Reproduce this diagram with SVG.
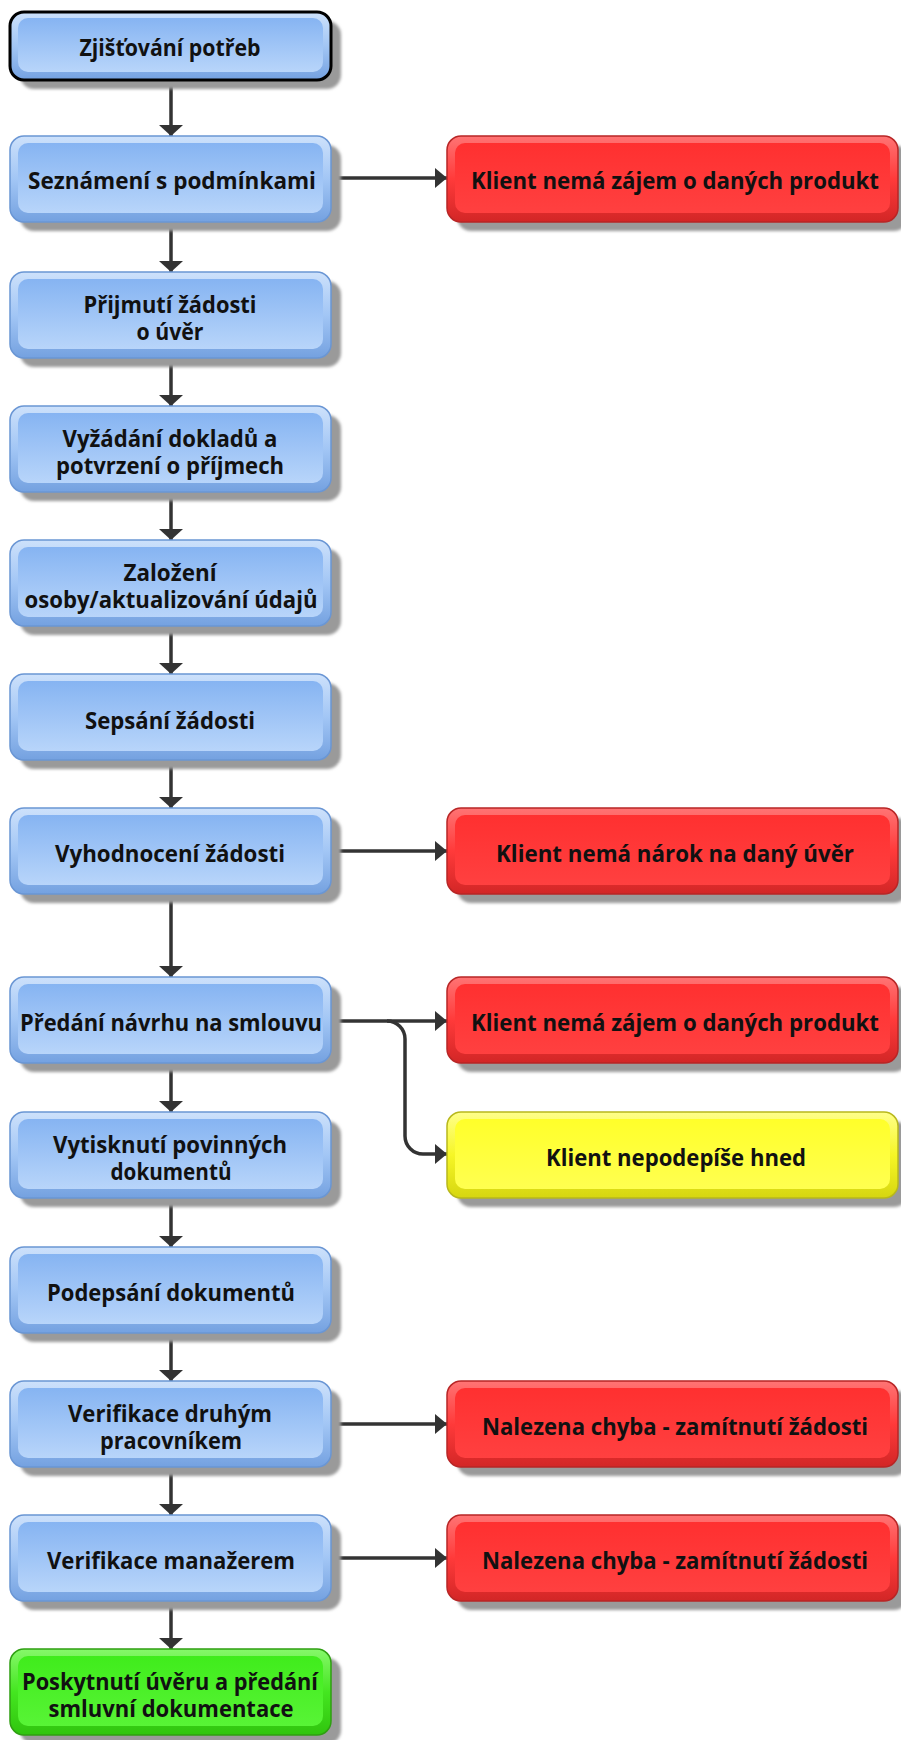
<svg xmlns="http://www.w3.org/2000/svg" width="901" height="1740" viewBox="0 0 901 1740">
<style>
.t{font-family:"Open Sans","Liberation Sans",sans-serif;font-weight:bold;font-size:24px;fill:#111;text-anchor:middle}
.sh{fill:#9a9a9a;filter:url(#blur)}
.bo{fill:url(#gBo);stroke:#6a96d4;stroke-width:1.5}
.bi{fill:url(#gBi)}
.ro{fill:url(#gRo);stroke:#b82626;stroke-width:1.5}
.ri{fill:url(#gRi)}
.yo{fill:url(#gYo);stroke:#b8b81c;stroke-width:1.5}
.yi{fill:url(#gYi)}
.go{fill:url(#gGo);stroke:#2f9f12;stroke-width:1.5}
.gi{fill:url(#gGi)}
.c{fill:none;stroke:#333;stroke-width:3.5}
</style>
<defs>
<filter id="blur" x="-5%" y="-10%" width="110%" height="120%"><feGaussianBlur stdDeviation="1.5"/></filter>
<linearGradient id="gBo" x1="0" y1="0" x2="0" y2="1"><stop offset="0" stop-color="#cde1fb"/><stop offset="0.5" stop-color="#a2c6f5"/><stop offset="1" stop-color="#74a1e0"/></linearGradient>
<linearGradient id="gBi" x1="0" y1="0" x2="0" y2="1"><stop offset="0" stop-color="#86b4f2"/><stop offset="1" stop-color="#b8d5fa"/></linearGradient>
<linearGradient id="gRo" x1="0" y1="0" x2="0" y2="1"><stop offset="0" stop-color="#ff7474"/><stop offset="0.5" stop-color="#ff3a3a"/><stop offset="1" stop-color="#d22626"/></linearGradient>
<linearGradient id="gRi" x1="0" y1="0" x2="0" y2="1"><stop offset="0" stop-color="#ff3030"/><stop offset="1" stop-color="#ff4040"/></linearGradient>
<linearGradient id="gYo" x1="0" y1="0" x2="0" y2="1"><stop offset="0" stop-color="#ffff8a"/><stop offset="0.5" stop-color="#f6f626"/><stop offset="1" stop-color="#d6d610"/></linearGradient>
<linearGradient id="gYi" x1="0" y1="0" x2="0" y2="1"><stop offset="0" stop-color="#ffff2a"/><stop offset="1" stop-color="#ffff50"/></linearGradient>
<linearGradient id="gGo" x1="0" y1="0" x2="0" y2="1"><stop offset="0" stop-color="#86f86a"/><stop offset="0.5" stop-color="#44e620"/><stop offset="1" stop-color="#30c40e"/></linearGradient>
<linearGradient id="gGi" x1="0" y1="0" x2="0" y2="1"><stop offset="0" stop-color="#40ec1c"/><stop offset="1" stop-color="#58f436"/></linearGradient>
<marker id="aV" viewBox="0 0 11 24" refX="11" refY="12" markerWidth="11" markerHeight="24" markerUnits="userSpaceOnUse" orient="auto"><path d="M0,0 L11,12 L0,24 Z" fill="#333"/></marker>
<marker id="aH" viewBox="0 0 12 20" refX="12" refY="10" markerWidth="12" markerHeight="20" markerUnits="userSpaceOnUse" orient="auto"><path d="M0,0 L12,10 L0,20 Z" fill="#333"/></marker>
</defs>
<rect width="901" height="1740" fill="#fff"/>

<g id="connectors">
<path class="c" d="M171,80 V136" marker-end="url(#aV)"/>
<path class="c" d="M171,222 V272" marker-end="url(#aV)"/>
<path class="c" d="M171,358 V406" marker-end="url(#aV)"/>
<path class="c" d="M171,492 V540" marker-end="url(#aV)"/>
<path class="c" d="M171,626 V674" marker-end="url(#aV)"/>
<path class="c" d="M171,760 V808" marker-end="url(#aV)"/>
<path class="c" d="M171,894 V977" marker-end="url(#aV)"/>
<path class="c" d="M171,1063 V1112" marker-end="url(#aV)"/>
<path class="c" d="M171,1198 V1247" marker-end="url(#aV)"/>
<path class="c" d="M171,1333 V1381" marker-end="url(#aV)"/>
<path class="c" d="M171,1467 V1515" marker-end="url(#aV)"/>
<path class="c" d="M171,1601 V1649" marker-end="url(#aV)"/>
<path class="c" d="M331,178 H447" marker-end="url(#aH)"/>
<path class="c" d="M331,851 H447" marker-end="url(#aH)"/>
<path class="c" d="M331,1021 H447" marker-end="url(#aH)"/>
<path class="c" d="M387,1021 A18,18 0 0 1 405,1039 V1136 A18,18 0 0 0 423,1154 H447" marker-end="url(#aH)"/>
<path class="c" d="M331,1424 H447" marker-end="url(#aH)"/>
<path class="c" d="M331,1558 H447" marker-end="url(#aH)"/>
</g>

<g id="n1">
<rect class="sh" x="20" y="21" width="321" height="68" rx="14"/>
<rect class="bo" x="10" y="12" width="321" height="68" rx="14" style="stroke:#000;stroke-width:3"/>
<rect class="bi" x="18" y="18" width="305" height="54" rx="10"/>
<text class="t" x="170" y="56" textLength="181" lengthAdjust="spacingAndGlyphs">Zjišťování potřeb</text>
</g>

<g id="n2">
<rect class="sh" x="20" y="145" width="321" height="86" rx="14"/>
<rect class="bo" x="10" y="136" width="321" height="86" rx="14"/>
<rect class="bi" x="18" y="143" width="305" height="70" rx="10"/>
<text class="t" x="172" y="189" textLength="288" lengthAdjust="spacingAndGlyphs">Seznámení s podmínkami</text>
</g>
<g id="r1">
<rect class="sh" x="457" y="145" width="451" height="86" rx="14"/>
<rect class="ro" x="447" y="136" width="451" height="86" rx="14"/>
<rect class="ri" x="455" y="143" width="435" height="70" rx="10"/>
<text class="t" x="675" y="189" textLength="408" lengthAdjust="spacingAndGlyphs">Klient nemá zájem o daných produkt</text>
</g>

<g id="n3">
<rect class="sh" x="20" y="281" width="321" height="86" rx="14"/>
<rect class="bo" x="10" y="272" width="321" height="86" rx="14"/>
<rect class="bi" x="18" y="279" width="305" height="70" rx="10"/>
<text class="t" x="170" y="313" textLength="173" lengthAdjust="spacingAndGlyphs">Přijmutí žádosti</text>
<text class="t" x="170" y="340" textLength="67" lengthAdjust="spacingAndGlyphs">o úvěr</text>
</g>

<g id="n4">
<rect class="sh" x="20" y="415" width="321" height="86" rx="14"/>
<rect class="bo" x="10" y="406" width="321" height="86" rx="14"/>
<rect class="bi" x="18" y="413" width="305" height="70" rx="10"/>
<text class="t" x="170" y="447" textLength="215" lengthAdjust="spacingAndGlyphs">Vyžádání dokladů a</text>
<text class="t" x="170" y="474" textLength="228" lengthAdjust="spacingAndGlyphs">potvrzení o příjmech</text>
</g>

<g id="n5">
<rect class="sh" x="20" y="549" width="321" height="86" rx="14"/>
<rect class="bo" x="10" y="540" width="321" height="86" rx="14"/>
<rect class="bi" x="18" y="547" width="305" height="70" rx="10"/>
<text class="t" x="170" y="581" textLength="93" lengthAdjust="spacingAndGlyphs">Založení</text>
<text class="t" x="171" y="608" textLength="293" lengthAdjust="spacingAndGlyphs">osoby/aktualizování údajů</text>
</g>

<g id="n6">
<rect class="sh" x="20" y="683" width="321" height="86" rx="14"/>
<rect class="bo" x="10" y="674" width="321" height="86" rx="14"/>
<rect class="bi" x="18" y="681" width="305" height="70" rx="10"/>
<text class="t" x="170" y="729" textLength="170" lengthAdjust="spacingAndGlyphs">Sepsání žádosti</text>
</g>

<g id="n7">
<rect class="sh" x="20" y="817" width="321" height="86" rx="14"/>
<rect class="bo" x="10" y="808" width="321" height="86" rx="14"/>
<rect class="bi" x="18" y="815" width="305" height="70" rx="10"/>
<text class="t" x="170" y="862" textLength="230" lengthAdjust="spacingAndGlyphs">Vyhodnocení žádosti</text>
</g>
<g id="r2">
<rect class="sh" x="457" y="817" width="451" height="86" rx="14"/>
<rect class="ro" x="447" y="808" width="451" height="86" rx="14"/>
<rect class="ri" x="455" y="815" width="435" height="70" rx="10"/>
<text class="t" x="675" y="862" textLength="358" lengthAdjust="spacingAndGlyphs">Klient nemá nárok na daný úvěr</text>
</g>

<g id="n8">
<rect class="sh" x="20" y="986" width="321" height="86" rx="14"/>
<rect class="bo" x="10" y="977" width="321" height="86" rx="14"/>
<rect class="bi" x="18" y="984" width="305" height="70" rx="10"/>
<text class="t" x="171" y="1031" textLength="302" lengthAdjust="spacingAndGlyphs">Předání návrhu na smlouvu</text>
</g>
<g id="r3">
<rect class="sh" x="457" y="986" width="451" height="86" rx="14"/>
<rect class="ro" x="447" y="977" width="451" height="86" rx="14"/>
<rect class="ri" x="455" y="984" width="435" height="70" rx="10"/>
<text class="t" x="675" y="1031" textLength="408" lengthAdjust="spacingAndGlyphs">Klient nemá zájem o daných produkt</text>
</g>

<g id="n9">
<rect class="sh" x="20" y="1121" width="321" height="86" rx="14"/>
<rect class="bo" x="10" y="1112" width="321" height="86" rx="14"/>
<rect class="bi" x="18" y="1119" width="305" height="70" rx="10"/>
<text class="t" x="170" y="1153" textLength="234" lengthAdjust="spacingAndGlyphs">Vytisknutí povinných</text>
<text class="t" x="171" y="1180" textLength="121" lengthAdjust="spacingAndGlyphs">dokumentů</text>
</g>
<g id="y1">
<rect class="sh" x="457" y="1121" width="451" height="86" rx="14"/>
<rect class="yo" x="447" y="1112" width="451" height="86" rx="14"/>
<rect class="yi" x="455" y="1119" width="435" height="70" rx="10"/>
<text class="t" x="676" y="1166" textLength="260" lengthAdjust="spacingAndGlyphs">Klient nepodepíše hned</text>
</g>

<g id="n10">
<rect class="sh" x="20" y="1256" width="321" height="86" rx="14"/>
<rect class="bo" x="10" y="1247" width="321" height="86" rx="14"/>
<rect class="bi" x="18" y="1254" width="305" height="70" rx="10"/>
<text class="t" x="171" y="1301" textLength="248" lengthAdjust="spacingAndGlyphs">Podepsání dokumentů</text>
</g>

<g id="n11">
<rect class="sh" x="20" y="1390" width="321" height="86" rx="14"/>
<rect class="bo" x="10" y="1381" width="321" height="86" rx="14"/>
<rect class="bi" x="18" y="1388" width="305" height="70" rx="10"/>
<text class="t" x="170" y="1422" textLength="204" lengthAdjust="spacingAndGlyphs">Verifikace druhým</text>
<text class="t" x="171" y="1449" textLength="142" lengthAdjust="spacingAndGlyphs">pracovníkem</text>
</g>
<g id="r4">
<rect class="sh" x="457" y="1390" width="451" height="86" rx="14"/>
<rect class="ro" x="447" y="1381" width="451" height="86" rx="14"/>
<rect class="ri" x="455" y="1388" width="435" height="70" rx="10"/>
<text class="t" x="675" y="1435" textLength="386" lengthAdjust="spacingAndGlyphs">Nalezena chyba - zamítnutí žádosti</text>
</g>

<g id="n12">
<rect class="sh" x="20" y="1524" width="321" height="86" rx="14"/>
<rect class="bo" x="10" y="1515" width="321" height="86" rx="14"/>
<rect class="bi" x="18" y="1522" width="305" height="70" rx="10"/>
<text class="t" x="171" y="1569" textLength="248" lengthAdjust="spacingAndGlyphs">Verifikace manažerem</text>
</g>
<g id="r5">
<rect class="sh" x="457" y="1524" width="451" height="86" rx="14"/>
<rect class="ro" x="447" y="1515" width="451" height="86" rx="14"/>
<rect class="ri" x="455" y="1522" width="435" height="70" rx="10"/>
<text class="t" x="675" y="1569" textLength="386" lengthAdjust="spacingAndGlyphs">Nalezena chyba - zamítnutí žádosti</text>
</g>

<g id="n13">
<rect class="sh" x="20" y="1658" width="321" height="86" rx="14"/>
<rect class="go" x="10" y="1649" width="321" height="86" rx="14"/>
<rect class="gi" x="18" y="1656" width="305" height="70" rx="10"/>
<text class="t" x="170" y="1690" textLength="296" lengthAdjust="spacingAndGlyphs">Poskytnutí úvěru a předání</text>
<text class="t" x="171" y="1717" textLength="245" lengthAdjust="spacingAndGlyphs">smluvní dokumentace</text>
</g>
</svg>
